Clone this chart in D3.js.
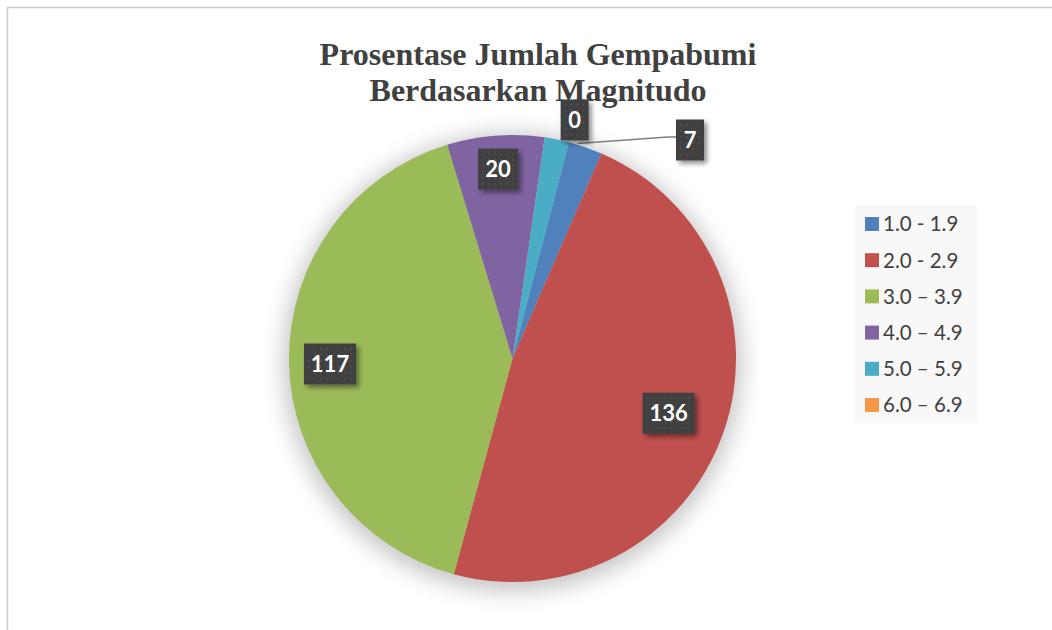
<!DOCTYPE html>
<html>
<head>
<meta charset="utf-8">
<title>Prosentase Jumlah Gempabumi</title>
<style>
  body { margin: 0; background: #fff; }
</style>
</head>
<body>
<script src="https://cdn.jsdelivr.net/npm/d3@7"></script>
<script>
// data
var categories = ['1.0 - 1.9', '2.0 - 2.9', '3.0 \u2013 3.9', '4.0 \u2013 4.9', '5.0 \u2013 5.9', '6.0 \u2013 6.9'];
var values = [7, 136, 117, 20, 5, 0];
var labelText = ['7', '136', '117', '20', '', '0'];   // label for 5.0-5.9 is not shown in the chart
var colors = ['#4f81bd', '#c0504d', '#9bbb59', '#8064a2', '#4bacc6', '#f79646'];
var titleLines = ['Prosentase Jumlah Gempabumi', 'Berdasarkan Magnitudo'];

var W = 1052, H = 630;
var cx = 512.5, cy = 358.5, R = 223.5;
var startDeg = 14.6;

var svg = d3.select('body').append('svg').attr('width', W).attr('height', H);
var defs = svg.append('defs');

var shadow = defs.append('filter').attr('id', 'pieShadow')
  .attr('x', '-30%').attr('y', '-30%').attr('width', '160%').attr('height', '160%');
shadow.append('feGaussianBlur').attr('stdDeviation', 11);

var boxShadow = defs.append('filter').attr('id', 'boxShadow')
  .attr('x', '-30%').attr('y', '-30%').attr('width', '170%').attr('height', '170%');
boxShadow.append('feGaussianBlur').attr('in', 'SourceAlpha').attr('stdDeviation', 2.5).attr('result', 'b');
boxShadow.append('feOffset').attr('in', 'b').attr('dx', 3).attr('dy', 3).attr('result', 'o');
boxShadow.append('feComponentTransfer').attr('in', 'o').attr('result', 'o2')
  .append('feFuncA').attr('type', 'linear').attr('slope', 0.45);
var bm = boxShadow.append('feMerge');
bm.append('feMergeNode').attr('in', 'o2');
bm.append('feMergeNode').attr('in', 'SourceGraphic');

var pat = defs.append('pattern').attr('id', 'dots')
  .attr('patternUnits', 'userSpaceOnUse').attr('width', 6).attr('height', 6);
pat.append('rect').attr('width', 6).attr('height', 6).attr('fill', '#3f3f3f');
pat.append('rect').attr('x', 2).attr('y', 2).attr('width', 1.5).attr('height', 1.5).attr('fill', '#575757');

// chart border
svg.append('path')
  .attr('d', 'M7.5,' + H + ' L7.5,7.5 L' + W + ',7.5')
  .attr('fill', 'none').attr('stroke', '#c9c9c9').attr('stroke-width', 1.5);

// title
svg.append('g').selectAll('text').data(titleLines).join('text')
  .attr('x', 538).attr('y', function(d, i) { return 65 + i * 36; })
  .attr('text-anchor', 'middle')
  .attr('font-family', '"Liberation Serif", "Times New Roman", serif')
  .attr('font-weight', 'bold').attr('font-size', 32)
  .attr('fill', '#404040')
  .text(function(d) { return d; });

// pie
var pie = d3.pie().sort(null)
  .startAngle(startDeg * Math.PI / 180)
  .endAngle(startDeg * Math.PI / 180 + 2 * Math.PI);
var arcs = pie(values);
var arc = d3.arc().innerRadius(0).outerRadius(R);

var g = svg.append('g').attr('transform', 'translate(' + cx + ',' + cy + ')');
g.append('circle').attr('r', R + 6).attr('cy', 4)
  .attr('fill', '#000').attr('opacity', 0.22)
  .attr('filter', 'url(#pieShadow)');
g.selectAll('path.slice').data(arcs).join('path')
  .attr('class', 'slice')
  .attr('d', arc)
  .attr('fill', function(d, i) { return colors[i]; });

function polar(ang, rr) { return [Math.sin(ang) * rr, -Math.cos(ang) * rr]; }

// data labels (placed like Excel's best-fit)
var lab = svg.append('g');
arcs.forEach(function(a, i) {
  if (!labelText[i]) return;
  var mid = (a.startAngle + a.endAngle) / 2;
  var p;
  if (i === 0) {
    p = [690 - cx, 140 - cy];
    var e = polar(a.startAngle + (a.endAngle - a.startAngle) * 0.25, R + 1);
    lab.append('polyline')
      .attr('points', [[cx + e[0], cy + e[1]], [668, 137], [676, 137]].map(function(q) { return q.join(','); }).join(' '))
      .attr('fill', 'none').attr('stroke', '#7f7f7f').attr('stroke-width', 1.5);
  } else if (i === 1) {
    p = polar(mid, R * 0.74);
  } else if (i === 2) {
    p = [330 - cx, 364 - cy];
  } else if (i === 3) {
    p = polar(mid, R * 0.85);
  } else {
    p = polar(a.startAngle, R + 23);
  }
  var txt = labelText[i];
  var bw = txt.length * 12 + 16, bh = 41;
  var gg = lab.append('g').attr('transform', 'translate(' + (cx + p[0]) + ',' + (cy + p[1]) + ')');
  gg.append('rect').attr('x', -bw / 2).attr('y', -bh / 2).attr('width', bw).attr('height', bh)
    .attr('fill', 'url(#dots)').attr('filter', 'url(#boxShadow)');
  gg.append('text').attr('text-anchor', 'middle').attr('dy', '0.35em')
    .attr('font-family', 'Lato, "Open Sans", sans-serif').attr('font-weight', 'bold')
    .attr('font-size', 22).attr('fill', '#fff')
    .text(txt);
});

// legend
var leg = svg.append('g');
leg.append('rect').attr('x', 855).attr('y', 205).attr('width', 122).attr('height', 218).attr('fill', '#f8f8f8');
var item = leg.selectAll('g.item').data(categories).join('g')
  .attr('class', 'item')
  .attr('transform', function(d, i) { return 'translate(865,' + (224 + i * 36.2) + ')'; });
item.append('rect').attr('x', 0).attr('y', -7).attr('width', 14).attr('height', 14)
  .attr('fill', function(d, i) { return colors[i]; });
item.append('text').attr('x', 18).attr('dy', '0.36em')
  .attr('font-family', 'Lato, "Open Sans", sans-serif').attr('font-size', 20.5)
  .attr('fill', '#404040')
  .text(function(d) { return d; });
</script>
</body>
</html>
